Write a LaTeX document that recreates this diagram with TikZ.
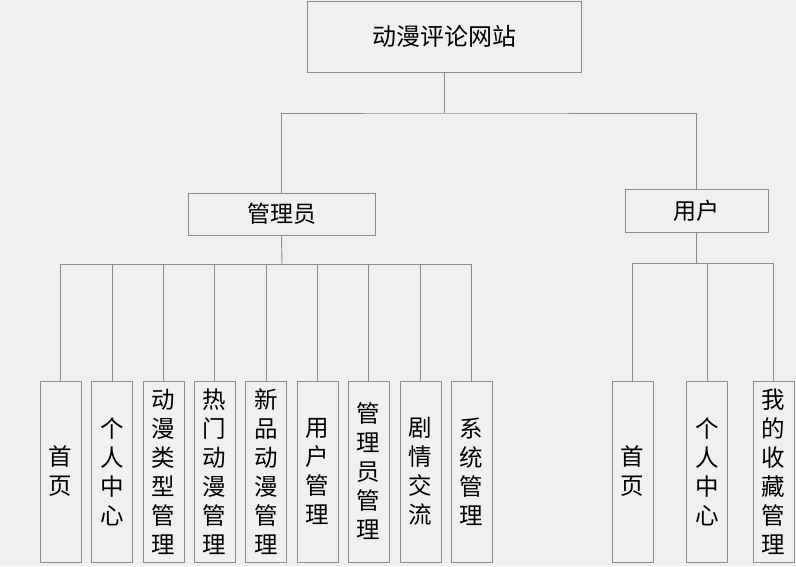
\documentclass[tikz,border=0pt]{standalone}
\usepackage{fontspec}
\newfontfamily\cjk{Noto Sans CJK SC}
\definecolor{bgc}{HTML}{F0F0F0}
\definecolor{linec}{HTML}{8C8C8C}
\tikzset{
  box/.style={draw=linec, line width=0.9pt, fill=bgc, inner sep=0pt, align=center, text=black},
  toplevel/.style={box, minimum width=274pt, minimum height=71pt, font=\cjk\fontsize{24}{28}\selectfont},
  midlevel/.style={box, minimum height=42pt, font=\cjk\fontsize{23}{28}\selectfont},
  leaf/.style={box, minimum width=41pt, minimum height=181pt, font=\cjk\fontsize{23.5}{29}\selectfont},
  conn/.style={draw=linec, line width=0.9pt}
}
\begin{document}
\begin{tikzpicture}[x=1pt,y=1pt]
\fill[bgc] (0,0) rectangle (796,-566);
\node[toplevel] (root) at (444,-36.5) {动漫评论网站};
\node[midlevel, minimum width=187pt] (admin) at (281.5,-214) {管理员};
\node[midlevel, minimum width=143pt, minimum height=43pt] (user) at (696.5,-210.5) {用户};
\coordinate (b1) at (444,-113);
\coordinate (b2) at (282,-264);
\coordinate (b3) at (696.5,-263);
% admin leaves
\node[leaf] (a1) at (60.5,-471.5) {首\\页};
\node[leaf] (a2) at (112,-471.5) {个\\人\\中\\心};
\node[leaf] (a3) at (163.5,-471.5) {动\\漫\\类\\型\\管\\理};
\node[leaf] (a4) at (214.5,-471.5) {热\\门\\动\\漫\\管\\理};
\node[leaf] (a5) at (266,-471.5) {新\\品\\动\\漫\\管\\理};
\node[leaf] (a6) at (317.5,-471.5) {用\\户\\管\\理};
\node[leaf] (a7) at (368.5,-471.5) {管\\理\\员\\管\\理};
\node[leaf] (a8) at (420.5,-471.5) {剧\\情\\交\\流};
\node[leaf] (a9) at (471.5,-471.5) {系\\统\\管\\理};
% user leaves
\node[leaf] (u1) at (632.5,-471.5) {首\\页};
\node[leaf] (u2) at (707,-471.5) {个\\人\\中\\心};
\node[leaf] (u3) at (773.5,-471.5) {我\\的\\收\\藏\\管\\理};
% connectors
\draw[conn] (root.south) -- (b1);
\draw[conn] (admin.north) |- (b1) -| (user.north);
\draw[conn] (admin.south) -- (b2);
\foreach \n in {a1,a2,a3,a4,a5,a6,a7,a8,a9} {\draw[conn] (\n.north) |- (b2);}
\draw[conn] (user.south) -- (b3);
\foreach \n in {u1,u2,u3} {\draw[conn] (\n.north) |- (b3);}
\end{tikzpicture}
\end{document}
